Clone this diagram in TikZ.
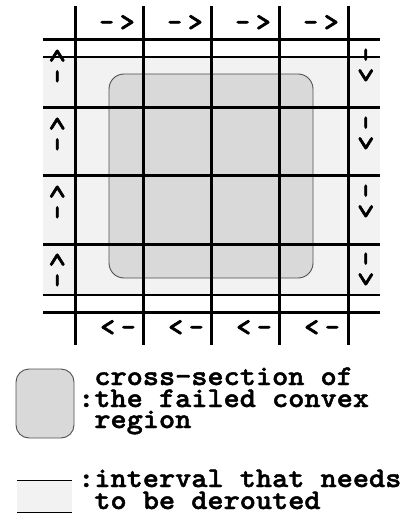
\documentclass[tikz,border=0pt]{standalone}
\usepackage{fontspec}
\newfontfamily\legfont[FakeStretch=1.08,FakeBold=1.6]{lmmonolt10-bold.otf}
\newfontfamily\arrfont[FakeBold=2]{lmmonolt10-bold.otf}
\definecolor{lightfill}{HTML}{F2F2F2}
\definecolor{regionfill}{HTML}{D9D9D9}
\definecolor{regionline}{HTML}{505050}
\newcommand{\rarrtext}{-\kern6pt>}
\newcommand{\larrtext}{<\kern6pt-}
\begin{document}
\begin{tikzpicture}[x=1pt,y=-1pt,
  gridthick/.style={line width=3pt},
  gridthin/.style={line width=1.3pt},
  regionbox/.style={fill=regionfill,draw=regionline,line width=0.9pt,rounded corners=15pt},
  arr/.style={font=\arrfont\fontsize{28}{28}\selectfont,inner sep=0pt},
  leg/.style={font=\legfont\fontsize{28.5}{22}\selectfont,inner sep=0pt,anchor=base west,text height=15pt,text depth=5pt}]
\useasboundingbox (0,0) rectangle (405,521);
% light band
\fill[lightfill] (43,57) rectangle (380,295);
% failed region
\draw[regionbox] (109,74) rectangle (313,278);
% thin lines
\draw[gridthin] (43,57) -- (380,57);
\draw[gridthin] (43,295) -- (380,295);
% thick horizontal lines
\foreach \y in {40,108,176,244,312} \draw[gridthick] (43,\y) -- (380,\y);
% vertical lines
\foreach \x in {75,143,211,279,348} \draw[gridthick] (\x,6) -- (\x,345);
% top arrows
\node[arr] (t1) at (117,23) {\rarrtext};
\node[arr] (t2) at (185,23) {\rarrtext};
\node[arr] (t3) at (253,23) {\rarrtext};
\node[arr] (t4) at (321,23) {\rarrtext};
% bottom arrows
\node[arr] (b1) at (118,328) {\larrtext};
\node[arr] (b2) at (186,328) {\larrtext};
\node[arr] (b3) at (254,328) {\larrtext};
\node[arr] (b4) at (322,328) {\larrtext};
% left arrows
\node[arr,rotate=90] (l1) at (58,66) {\rarrtext};
\node[arr,rotate=90] (l2) at (58,134) {\rarrtext};
\node[arr,rotate=90] (l3) at (58,202) {\rarrtext};
\node[arr,rotate=90] (l4) at (58,270) {\rarrtext};
% right arrows
\node[arr,rotate=-90] (r1) at (365,65) {\rarrtext};
\node[arr,rotate=-90] (r2) at (365,133) {\rarrtext};
\node[arr,rotate=-90] (r3) at (365,201) {\rarrtext};
\node[arr,rotate=-90] (r4) at (365,269) {\rarrtext};
% legend 1
\draw[regionbox,rounded corners=13pt] (16,369) rectangle (74,438);
\node[leg] (g1) at (78,385) {\phantom{:}cross-section of};
\node[leg] (g2) at (78,407) {:the failed convex};
\node[leg] (g3) at (78,428) {\phantom{:}region};
% legend 2
\fill[lightfill] (17,480) rectangle (72,512);
\draw[line width=1pt] (17,480) -- (72,480);
\draw[line width=1pt] (17,512) -- (72,512);
\node[leg] (g4) at (78,487) {:interval that needs};
\node[leg] (g5) at (78,509) {\phantom{:}to be derouted};
\end{tikzpicture}
\end{document}
